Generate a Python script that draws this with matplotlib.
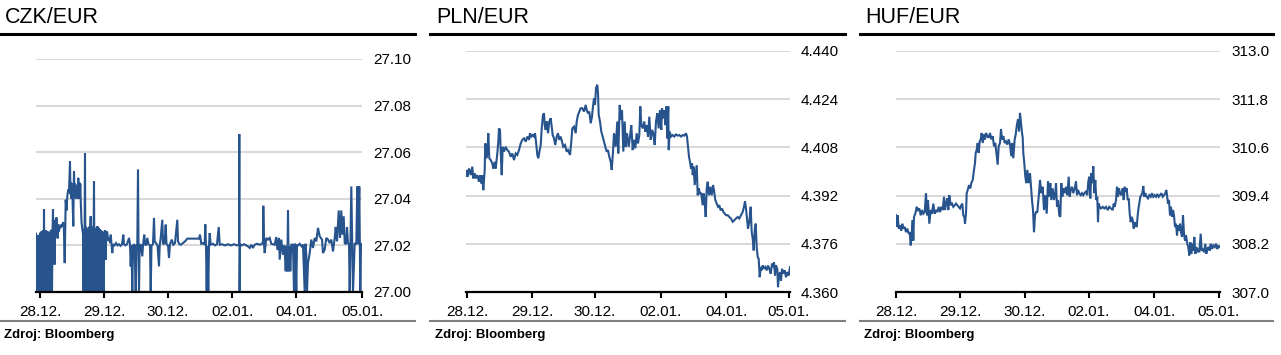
import numpy as np
import matplotlib
matplotlib.use("Agg")
import matplotlib.pyplot as plt
from matplotlib.lines import Line2D

plt.rcParams["font.family"] = ["Liberation Sans", "DejaVu Sans"]

# observation index, rate
czk_pts = [
    (-4, 27.0250), (-3.6, 27.0), (-3.2, 27.0240), (-2.8, 27.0), (-2.4, 27.0235), (-2.0, 27.0),
    (-1.6, 27.0245), (-1.2, 27.0180), (-0.8, 27.0), (-0.4, 27.0240), (0.0, 27.0), (0.4, 27.0255),
    (0.8, 27.0120), (1.2, 27.0), (1.6, 27.0260), (2.0, 27.0), (2.4, 27.0250), (2.8, 27.0),
    (3.2, 27.0265), (3.6, 27.0), (4.0, 27.0355), (4.4, 27.0), (4.8, 27.0258), (5.2, 27.0100),
    (5.6, 27.0), (6.0, 27.0265), (6.4, 27.0), (6.8, 27.0240), (7.2, 27.0), (7.6, 27.0260),
    (8.0, 27.0), (8.4, 27.0230), (8.8, 27.0), (9.2, 27.0250), (9.6, 27.0), (10.0, 27.0255),
    (10.4, 27.0), (10.8, 27.0265), (11.2, 27.0), (11.6, 27.0267), (12.0, 27.0),
    (12.6, 27.0270), (13.0, 27.0355), (13.4, 27.0120), (14.0, 27.0300), (14.6, 27.0118),
    (15.2, 27.0310), (15.8, 27.0250), (16.4, 27.0320), (17.0, 27.0270), (17.6, 27.0230),
    (18.2, 27.0290), (19.0, 27.0260), (19.8, 27.0285), (20.6, 27.0275), (21.4, 27.0290),
    (22.2, 27.0280), (23.0, 27.0300), (23.8, 27.0285), (24.7, 27.0124), (25.3, 27.0300),
    (25.7, 27.0396), (26.5, 27.0350), (27.3, 27.0410), (28.2, 27.0440), (29.0, 27.0430),
    (30.0, 27.0560), (30.5, 27.0420), (31.0, 27.0470), (31.5, 27.0400), (32.0, 27.0465),
    (32.5, 27.0410), (33.3, 27.0282), (33.7, 27.0450), (34.0, 27.0518), (34.5, 27.0420),
    (35.0, 27.0465), (35.5, 27.0405), (36.0, 27.0460), (36.5, 27.0400), (37.0, 27.0455),
    (37.5, 27.0410), (38.3, 27.0490), (38.8, 27.0400), (39.3, 27.0470), (39.8, 27.0410),
    (40.3, 27.0465), (40.7, 27.0396), (41.5, 27.0300), (42.3, 27.0270), (43.0, 27.0250),
    (43.3, 27.0), (43.8, 27.0270), (44.3, 27.0), (45.0, 27.0596), (45.5, 27.0), (46.0, 27.0280),
    (46.5, 27.0), (47.0, 27.0275), (47.5, 27.0), (48.0, 27.0270), (48.5, 27.0), (49.0, 27.0280),
    (49.7, 27.0250), (50.3, 27.0270), (50.7, 27.0325), (51.2, 27.0), (51.7, 27.0260),
    (52.2, 27.0), (52.7, 27.0280), (53.2, 27.0), (54.0, 27.0475), (54.5, 27.0), (55.0, 27.0270),
    (55.5, 27.0), (56.0, 27.0275), (56.5, 27.0), (57.0, 27.0282), (57.5, 27.0), (58.0, 27.0280),
    (58.5, 27.0), (59.0, 27.0275), (59.5, 27.0), (60.0, 27.0270), (60.5, 27.0), (61.0, 27.0265),
    (61.5, 27.0), (62.0, 27.0260), (62.5, 27.0), (63.0, 27.0255), (63.5, 27.0), (64.2, 27.0255),
    (65.0, 27.0265), (65.7, 27.0139), (66.3, 27.0260), (67.3, 27.0255), (68.0, 27.0220),
    (69.0, 27.0232), (70.0, 27.0210), (70.7, 27.0246), (71.5, 27.0205), (72.3, 27.0167),
    (73.0, 27.0205), (74.5, 27.0200), (76.0, 27.0210), (77.5, 27.0200), (79.0, 27.0205),
    (80.5, 27.0198), (82.0, 27.0205), (83.3, 27.0246), (84.0, 27.0205), (85.5, 27.0200),
    (87.0, 27.0205), (89.0, 27.0232), (90.0, 27.0205), (90.7, 27.0110), (91.5, 27.0200),
    (92.3, 27.0), (93.0, 27.0200), (94.5, 27.0205), (95.7, 27.0), (96.5, 27.0200),
    (97.3, 27.0205), (98.0, 27.0525), (98.5, 27.0200), (99.0, 27.0), (99.6, 27.0200),
    (100.7, 27.0205), (102.3, 27.0153), (103.0, 27.0200), (104.3, 27.0246), (105.0, 27.0205),
    (106.0, 27.0200), (107.3, 27.0232), (108.5, 27.0205), (110.0, 27.0200), (110.7, 27.0),
    (111.5, 27.0200), (113.0, 27.0205), (114.0, 27.0318), (114.7, 27.0217), (116.0, 27.0210),
    (117.5, 27.0200), (119.0, 27.0110), (119.7, 27.0200), (120.7, 27.0232), (122.3, 27.0310),
    (123.0, 27.0205), (124.5, 27.0210), (125.7, 27.0289), (126.5, 27.0205), (128.0, 27.0200),
    (129.0, 27.0146), (130.0, 27.0205), (131.7, 27.0225), (133.3, 27.0203), (135.0, 27.0210),
    (137.3, 27.0310), (138.0, 27.0217), (139.5, 27.0205), (140.7, 27.0203), (143.0, 27.0210),
    (145.0, 27.0217), (147.3, 27.0229), (150.0, 27.0229), (153.0, 27.0229), (156.0, 27.0229),
    (159.0, 27.0229), (160.0, 27.0246), (161.3, 27.0207), (163.0, 27.0210), (164.7, 27.0203),
    (165.3, 27.0290), (166.0, 27.0196), (166.7, 27.0), (167.3, 27.0196), (168.3, 27.0),
    (169.0, 27.0200), (169.7, 27.0253), (170.7, 27.0203), (173.0, 27.0207), (175.0, 27.0200),
    (177.0, 27.0205), (178.7, 27.0279), (179.7, 27.0203), (182.0, 27.0205), (185.0, 27.0200),
    (188.0, 27.0205), (191.0, 27.0200), (194.0, 27.0205), (197.0, 27.0200), (199.0, 27.0203),
    (199.3, 27.0678), (199.6, 27.0), (200.0, 27.0205), (202.0, 27.0200), (204.0, 27.0205),
    (206.3, 27.0200), (208.0, 27.0196), (209.7, 27.0189), (211.3, 27.0203), (213.0, 27.0189),
    (214.7, 27.0203), (217.0, 27.0207), (220.0, 27.0203), (222.0, 27.0207), (223.0, 27.0217),
    (223.3, 27.0370), (224.0, 27.0205), (224.7, 27.0167), (226.3, 27.0232), (228.0, 27.0225),
    (229.7, 27.0232), (231.3, 27.0207), (234.7, 27.0203), (236.3, 27.0236), (237.5, 27.0180),
    (239.0, 27.0232), (239.7, 27.0139), (241.3, 27.0225), (243.0, 27.0160), (244.5, 27.0200),
    (245.7, 27.0089), (246.5, 27.0196), (247.3, 27.0089), (248.0, 27.0350), (248.7, 27.0089),
    (249.5, 27.0196), (250.3, 27.0089), (251.3, 27.0203), (253.0, 27.0203), (254.0, 27.0),
    (254.7, 27.0207), (255.3, 27.0203), (256.3, 27.0), (257.0, 27.0203), (258.0, 27.0200),
    (259.7, 27.0207), (261.5, 27.0196), (263.0, 27.0203), (264.7, 27.0), (265.5, 27.0207),
    (266.3, 27.0160), (267.0, 27.0), (268.0, 27.0124), (269.7, 27.0167), (271.3, 27.0225),
    (273.0, 27.0189), (274.7, 27.0232), (276.3, 27.0217), (278.0, 27.0275), (279.7, 27.0239),
    (282.0, 27.0225), (283.0, 27.0167), (284.7, 27.0182), (286.3, 27.0232), (288.0, 27.0225),
    (289.7, 27.0210), (291.3, 27.0225), (293.0, 27.0174), (294.7, 27.0232), (295.7, 27.0279),
    (297.0, 27.0217), (298.7, 27.0350), (300.0, 27.0232), (301.3, 27.0350), (302.3, 27.0246),
    (303.7, 27.0325), (304.7, 27.0210), (306.0, 27.0205), (307.0, 27.0279), (308.0, 27.0210),
    (309.0, 27.0205), (309.7, 27.0), (311.3, 27.0453), (313.0, 27.0), (314.7, 27.0210),
    (316.3, 27.0205), (317.3, 27.0453), (318.3, 27.0205), (319.3, 27.0453), (320.3, 27.0),
    (321.0, 27.0205), (322.0, 27.0207),
]

pln_pts = [
    (-1.3, 4.3988), (-0.3, 4.4005), (0.3, 4.3982), (2, 4.4010), (3.7, 4.3988), (5.3, 4.4016),
    (6.3, 4.3977), (7.7, 4.3994), (8.7, 4.3977), (10.3, 4.3988), (12, 4.3966), (13, 4.3988),
    (14.3, 4.3960), (15.3, 4.3988), (16.3, 4.3938), (17.7, 4.4005), (18.3, 4.4093), (19.3, 4.4044),
    (20.3, 4.4060), (21.3, 4.4127), (22.3, 4.4044), (23.7, 4.4038), (25.3, 4.4027), (26.3, 4.4010),
    (27.7, 4.4032), (28.7, 4.4010), (30.3, 4.4060), (31.3, 4.4099), (32, 4.4143), (33, 4.4138),
    (33.7, 4.4066), (34.7, 4.3988), (35.7, 4.4082), (37, 4.4066), (38.7, 4.4082), (40.3, 4.4071),
    (42, 4.4066), (43.7, 4.4049), (45.3, 4.4060), (47, 4.4038), (48.7, 4.4060), (50.3, 4.4055),
    (52, 4.4071), (53.7, 4.4093), (55.3, 4.4105), (57, 4.4110), (58.7, 4.4099), (60.3, 4.4116),
    (62, 4.4105), (63, 4.4127), (64.3, 4.4116), (65.7, 4.4121), (67, 4.4116), (68, 4.4127),
    (69, 4.4099), (70.3, 4.4055), (71.3, 4.4044), (72.7, 4.4071), (73.7, 4.4088), (74.7, 4.4143),
    (76, 4.4188), (77, 4.4193), (77.7, 4.4154), (78.7, 4.4138), (79.7, 4.4166), (81, 4.4127),
    (82.3, 4.4166), (83.7, 4.4177), (84.7, 4.4149), (85.7, 4.4121), (87, 4.4110), (88.3, 4.4088),
    (89.7, 4.4116), (91, 4.4127), (92.3, 4.4105), (93.7, 4.4116), (95, 4.4099), (96.3, 4.4082),
    (98, 4.4088), (99.7, 4.4066), (101, 4.4071), (103, 4.4055), (104.3, 4.4099), (105.3, 4.4143),
    (107, 4.4149), (108.7, 4.4127), (109.7, 4.4166), (111, 4.4188), (112.3, 4.4199), (113.7, 4.4210),
    (115.3, 4.4210), (117, 4.4199), (118.7, 4.4221), (119.7, 4.4204), (121, 4.4193), (122.3, 4.4199),
    (123.7, 4.4160), (125, 4.4182), (126, 4.4216), (127, 4.4243), (128, 4.4221), (129, 4.4277),
    (130.3, 4.4288), (131, 4.4260), (131.7, 4.4188), (133, 4.4166), (134.3, 4.4132), (135.7, 4.4116),
    (137, 4.4099), (138.3, 4.4082), (139.7, 4.4066), (141, 4.4071), (142.3, 4.4049), (143.7, 4.4032),
    (144.7, 4.4005), (146, 4.4066), (147, 4.4127), (148.7, 4.4082), (150.3, 4.4166), (151.3, 4.4060),
    (152.7, 4.4221), (153.7, 4.4171), (155, 4.4204), (156.3, 4.4066), (157.7, 4.4166), (158.7, 4.4082),
    (160, 4.4127), (161.7, 4.4082), (163, 4.4116), (164.3, 4.4154), (165.7, 4.4071), (167, 4.4105),
    (168.3, 4.4077), (169.7, 4.4127), (171, 4.4093), (172.3, 4.4121), (173.3, 4.4216), (174.3, 4.4154),
    (175.7, 4.4143), (177.3, 4.4166), (178.3, 4.4132), (179.7, 4.4154), (181, 4.4116), (182.3, 4.4182),
    (183.7, 4.4105), (185, 4.4138), (186.3, 4.4127), (187.7, 4.4088), (189, 4.4166), (190.3, 4.4193),
    (191.7, 4.4143), (193, 4.4204), (194.3, 4.4138), (195, 4.4210), (196.3, 4.4177), (197.3, 4.4204),
    (198.3, 4.4154), (199.3, 4.4216), (200.3, 4.4110), (201.3, 4.4216), (201.7, 4.4071), (202.7, 4.4132),
    (204, 4.4116), (205.7, 4.4121), (207.3, 4.4116), (209, 4.4123), (210.7, 4.4119), (212.3, 4.4121),
    (214, 4.4116), (215.7, 4.4121), (217.3, 4.4119), (219, 4.4127), (220, 4.4116), (221, 4.4082),
    (222, 4.4049), (223, 4.4032), (224, 4.4010), (225, 4.4027), (225.7, 4.3988), (226.7, 4.4016),
    (227.7, 4.3955), (228.7, 4.3988), (229.7, 4.4021), (230.7, 4.3921), (231.7, 4.3944), (233, 4.3927),
    (234.3, 4.3927), (235.7, 4.3888), (236.7, 4.3927), (237.7, 4.3899), (238.7, 4.3849), (239.7, 4.3944),
    (240.7, 4.3966), (242, 4.3921), (243.3, 4.3949), (244.7, 4.3921), (246, 4.3955), (247, 4.3938),
    (248.3, 4.3905), (249.7, 4.3894), (251, 4.3883), (252.3, 4.3888), (253.7, 4.3871), (255, 4.3877),
    (256.3, 4.3866), (257.7, 4.3860), (259, 4.3855), (260.7, 4.3855), (262.3, 4.3849), (264, 4.3844),
    (265.7, 4.3833), (267.3, 4.3838), (269, 4.3844), (270.7, 4.3849), (272.3, 4.3844), (274, 4.3855),
    (275.7, 4.3866), (277, 4.3883), (278, 4.3901), (279, 4.3877), (280, 4.3844), (281, 4.3810),
    (282.3, 4.3833), (283.7, 4.3883), (284.7, 4.3799), (285.7, 4.3777), (286.7, 4.3738), (287.7, 4.3805),
    (288.7, 4.3827), (289.7, 4.3749), (290.7, 4.3716), (291.7, 4.3710), (292.7, 4.3649), (293.7, 4.3683),
    (294.7, 4.3672), (295.7, 4.3688), (297, 4.3677), (298.3, 4.3683), (299.7, 4.3672), (301, 4.3688),
    (302.3, 4.3677), (303.7, 4.3661), (305, 4.3694), (306, 4.3683), (307, 4.3699), (308, 4.3655),
    (309, 4.3688), (310.3, 4.3677), (311, 4.3616), (312, 4.3655), (313, 4.3666), (314, 4.3638),
    (315, 4.3677), (316.3, 4.3661), (317.7, 4.3672), (319, 4.3649), (320.3, 4.3666), (321.7, 4.3655),
    (323, 4.3683),
]

huf_pts = [
    (0, 308.91), (0.7, 308.62), (1.7, 308.91), (2.7, 308.58), (4, 308.66), (5.3, 308.53), (6.3, 308.70),
    (7.3, 308.58), (8.7, 308.62), (10, 308.49), (11.3, 308.58), (12.7, 308.45), (13.7, 308.49),
    (14.7, 308.16), (15.7, 308.45), (16.7, 308.79), (17.3, 308.28), (18, 308.87), (19.3, 308.95),
    (20.7, 309.12), (22, 309.04), (23.3, 309.08), (24.7, 308.91), (26, 309.04), (27.3, 308.95),
    (28.7, 308.99), (30, 309.46), (31, 308.91), (32, 309.29), (33.3, 308.70), (34.7, 309.04),
    (36, 308.95), (37.3, 309.20), (38.7, 308.95), (40, 309.04), (41.3, 308.99), (42.7, 309.12),
    (44, 308.99), (45.3, 309.12), (46.7, 309.04), (48, 309.37), (49, 309.04), (50, 309.20),
    (51.3, 309.33), (52.3, 309.04), (53.3, 309.41), (54.7, 309.16), (56, 309.20), (57.3, 309.12),
    (58.7, 309.16), (60, 309.20), (61.3, 309.16), (62.7, 309.12), (64, 309.08), (65.3, 309.16),
    (66.3, 309.20), (67.3, 308.91), (68.3, 308.87), (69, 308.70), (70, 308.95), (70.7, 309.46),
    (71.7, 309.54), (73, 309.66), (74.3, 309.58), (75.3, 309.71), (76.7, 309.79), (78, 310.04),
    (79, 310.21), (79.7, 310.46), (80.7, 310.54), (81.7, 310.71), (82.7, 310.46), (83.7, 310.75),
    (84.7, 310.80), (85.7, 310.96), (86.7, 310.71), (88, 310.92), (89, 310.80), (90, 310.96),
    (91.3, 310.88), (92.7, 310.84), (94, 310.96), (95.3, 310.80), (96.7, 310.88), (98, 310.63),
    (99.3, 310.71), (100.7, 310.38), (101.7, 310.17), (102.7, 310.63), (104, 310.71), (105, 311.05),
    (106, 310.80), (107.3, 310.88), (108.7, 310.71), (110, 310.75), (111.3, 310.67), (112.7, 310.80),
    (114, 310.67), (115.3, 310.38), (116.3, 310.71), (117.3, 310.33), (118.7, 310.80), (119.7, 310.92),
    (120.7, 311.13), (122, 311.30), (123, 311.00), (124, 311.46), (125, 311.21), (126, 310.96),
    (126.7, 310.84), (127.3, 310.46), (128.3, 310.21), (129.3, 309.87), (130.3, 309.71), (131.3, 310.04),
    (132.7, 309.71), (134, 309.96), (135, 309.62), (136, 309.29), (137, 309.04), (138, 308.49),
    (139, 308.91), (140, 308.99), (141.3, 308.99), (142.7, 309.37), (144, 309.79), (145.3, 309.46),
    (146.7, 309.62), (148, 309.04), (149.3, 309.41), (150.7, 308.95), (152, 309.75), (153.3, 309.37),
    (154.3, 309.71), (155.3, 309.29), (156.7, 309.58), (158, 309.29), (159.3, 309.46), (160, 309.71),
    (161, 309.12), (162, 309.29), (163.3, 308.91), (164.3, 308.87), (165.3, 309.71), (166.3, 309.37),
    (167.3, 309.58), (168.7, 309.46), (170, 309.62), (171.3, 309.41), (172.7, 309.87), (173.7, 309.37),
    (174.7, 309.54), (176, 309.62), (177.3, 309.46), (178.7, 309.58), (180, 309.75), (181, 309.41),
    (182, 309.54), (183.3, 309.46), (184.7, 309.41), (186, 309.46), (187.3, 309.41), (188.7, 309.47),
    (190, 309.50), (191.3, 309.41), (192.3, 309.75), (193.3, 309.87), (194.3, 309.33), (195.3, 309.96),
    (196.3, 309.71), (197.3, 310.13), (198.3, 309.46), (199.3, 309.79), (200.3, 309.29), (201.3, 309.37),
    (202, 308.74), (202.7, 309.20), (203.7, 309.12), (205, 309.08), (206.7, 309.12), (208.3, 309.08),
    (210, 309.12), (211.7, 309.04), (213.3, 309.12), (215, 309.08), (216.7, 309.04), (217.7, 309.20),
    (218.7, 309.12), (220, 309.29), (221, 309.62), (222, 309.37), (223, 309.58), (224, 309.46),
    (225.3, 309.41), (226.7, 309.58), (227.7, 309.29), (228.7, 309.62), (229.7, 309.50), (230.7, 309.58),
    (231.7, 309.29), (232.7, 309.33), (233.7, 308.95), (234.7, 308.74), (235.7, 308.87), (236.7, 308.79),
    (237.7, 308.58), (238.7, 308.74), (239.7, 308.66), (240.7, 308.62), (241.7, 308.91), (242.7, 309.12),
    (243.3, 309.20), (244.3, 309.37), (245.3, 309.41), (246.3, 309.46), (247.3, 309.64), (248.3, 309.37),
    (249.3, 309.46), (250.7, 309.37), (252, 309.33), (253.3, 309.41), (254.7, 309.37), (256, 309.46),
    (257.3, 309.37), (258.7, 309.41), (260, 309.37), (261.3, 309.44), (262.7, 309.37), (264, 309.41),
    (265.3, 309.46), (266.7, 309.37), (268, 309.41), (269.3, 309.46), (270.3, 309.54), (271, 309.41),
    (272, 309.20), (273, 309.29), (274, 308.91), (275, 309.12), (276, 308.87), (277, 309.04),
    (278, 308.91), (279, 308.62), (280, 308.70), (281, 308.41), (282, 308.66), (283, 308.53),
    (284, 308.70), (285, 308.49), (286, 308.37), (287, 308.91), (288, 308.45), (289, 308.28),
    (290, 308.41), (291.3, 308.20), (292.3, 308.12), (293.3, 307.91), (294.3, 308.24), (295.3, 307.95),
    (296.3, 308.20), (297.3, 308.03), (298.3, 308.37), (299.3, 307.95), (300.3, 308.12), (301.3, 307.99),
    (302.3, 308.07), (303.3, 307.99), (304.7, 308.45), (305.7, 308.03), (306.7, 308.07), (308, 307.99),
    (309.3, 308.20), (310.3, 307.95), (311.3, 308.07), (312.7, 308.12), (313.7, 308.03), (314.7, 308.20),
    (316, 308.07), (317.3, 308.16), (318.7, 308.12), (320, 308.20), (321.3, 308.07), (322.3, 308.16),
    (323.3, 308.12),
]

titles = ["CZK/EUR", "PLN/EUR", "HUF/EUR"]
date_labels = ["28.12.", "29.12.", "30.12.", "02.01.", "04.01.", "05.01."]
czk_date_idx = [0, 64, 128, 192, 256, 322]
pln_date_idx = [0, 65, 128, 194, 259, 322]
huf_date_idx = [0, 64, 129, 193, 258, 323]
czk_yticks = [27.00, 27.02, 27.04, 27.06, 27.08, 27.10]
pln_yticks = [4.360, 4.376, 4.392, 4.408, 4.424, 4.440]
huf_yticks = [307.0, 308.2, 309.4, 310.6, 311.8, 313.0]
source = "Zdroj: Bloomberg"

LINE = "#28548e"
GRID = "#d9d9d9"
W, H = 1281, 355

fig = plt.figure(figsize=(12.81, 3.55), dpi=100)

panels = [
    # pts, ticks, yticks, fmt, xlim, axes rect (px), panel x-range (px), text x (px)
    (czk_pts, czk_date_idx, czk_yticks, "{:.2f}", (-4, 322), (36, 59, 362, 292), (0, 415), 5),
    (pln_pts, pln_date_idx, pln_yticks, "{:.3f}", (-1, 323), (466, 51, 790, 292), (430, 845), 436),
    (huf_pts, huf_date_idx, huf_yticks, "{:.1f}", (0, 324), (896, 51, 1220, 292), (860, 1273), 865),
]

for i, (pts, xt, yt, fmt, xl, rect, span, tx) in enumerate(panels):
    x0, y0, x1, y1 = rect
    ax = fig.add_axes([x0 / W, 1 - y1 / H, (x1 - x0) / W, (y1 - y0) / H])
    t, v = zip(*pts)
    ax.plot(t, v, color=LINE, lw=1.5, solid_joinstyle="miter")
    ax.set_xlim(*xl)
    ax.set_ylim(yt[0], yt[-1])
    ax.set_yticks(yt)
    ax.set_yticklabels([fmt.format(y) for y in yt])
    ax.yaxis.tick_right()
    ax.tick_params(axis="y", length=0, pad=8, labelsize=11)
    ax.set_xticks(xt)
    ax.set_xticklabels(date_labels)
    ax.tick_params(axis="x", length=4, width=1.5, pad=5.5, labelsize=11, direction="out")
    ax.grid(axis="y", color=GRID, lw=1.5)
    ax.set_axisbelow(True)
    for s in ["top", "left", "right"]:
        ax.spines[s].set_visible(False)
    ax.spines["bottom"].set_linewidth(1.6)
    ax.spines["bottom"].set_zorder(5)

    # header, rules and source
    fig.text(tx / W, 1 - 23 / H, titles[i], fontsize=15.5, va="baseline", ha="left")
    fig.add_artist(Line2D([span[0] / W, span[1] / W], [1 - 33.5 / H] * 2,
                          color="black", lw=2.2, transform=fig.transFigure))
    fig.add_artist(Line2D([span[0] / W, span[1] / W], [1 - 321 / H] * 2,
                          color="#808080", lw=1.5, transform=fig.transFigure))
    fig.text((tx - 1) / W, 1 - 338 / H, source, fontsize=9.5, fontweight="bold",
             va="baseline", ha="left")

fig.savefig("out.png", dpi=100)
